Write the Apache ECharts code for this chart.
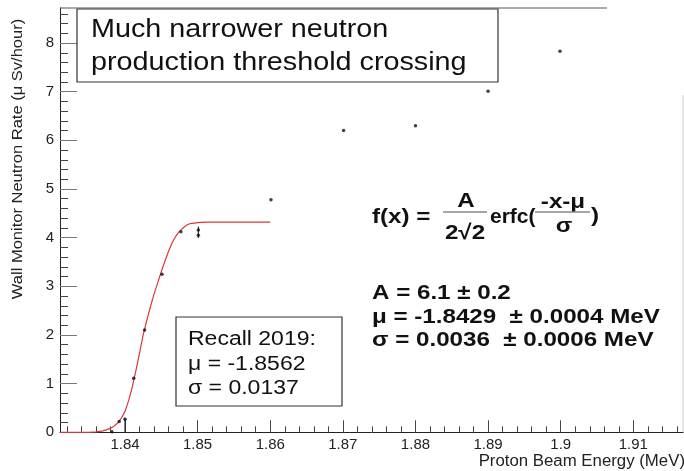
<!DOCTYPE html>
<html>
<head>
<meta charset="utf-8">
<script src="https://cdn.jsdelivr.net/npm/echarts@6/dist/echarts.min.js"></script>
<style>html,body{margin:0;padding:0;background:#fff;}#c{width:684px;height:471px;}</style>
</head>
<body>
<div id="c"></div>
<script>
// ---- data ----
const curveX = [1.83105, 1.8350, 1.8360, 1.8370, 1.8380, 1.8385, 1.8390, 1.8395, 1.8400, 1.8405, 1.8410, 1.8415, 1.8420, 1.8425, 1.8430, 1.8435, 1.8440, 1.8445, 1.8450, 1.8455, 1.8460, 1.8465, 1.8470, 1.8475, 1.8480, 1.8485, 1.8490, 1.8500, 1.8510, 1.8600];
const curveY = [0.00, 0.00, 0.01, 0.03, 0.08, 0.13, 0.19, 0.29, 0.43, 0.65, 0.93, 1.27, 1.62, 2.00, 2.30, 2.58, 2.84, 3.07, 3.30, 3.52, 3.72, 3.90, 4.03, 4.13, 4.20, 4.26, 4.29, 4.31, 4.32, 4.32];
const pointX = [1.8382, 1.8392, 1.8400, 1.8412, 1.8427, 1.8451, 1.8477, 1.8501, 1.8501, 1.8601, 1.8701, 1.8800, 1.8900, 1.8999];
const pointY = [0.01, 0.22, 0.27, 1.11, 2.10, 3.25, 4.12, 4.16, 4.05, 4.78, 6.20, 6.30, 7.01, 7.83];
const errX = [1.8400, 1.8501, 1.8501];
const errLow = [0.00, 4.10, 3.99];
const errHigh = [0.30, 4.23, 4.11];
const xMajor = [1.84, 1.85, 1.86, 1.87, 1.88, 1.89, 1.90, 1.91];
const xMinor = [1.832, 1.834, 1.836, 1.838, 1.842, 1.844, 1.846, 1.848, 1.852, 1.854, 1.856, 1.858, 1.862, 1.864, 1.866, 1.868, 1.872, 1.874, 1.876, 1.878, 1.882, 1.884, 1.886, 1.888, 1.892, 1.894, 1.896, 1.898, 1.902, 1.904, 1.906, 1.908, 1.912, 1.914, 1.916];
const yMajor = [0, 1, 2, 3, 4, 5, 6, 7, 8];
const yMinor = [0.2, 0.4, 0.6, 0.8, 1.2, 1.4, 1.6, 1.8, 2.2, 2.4, 2.6, 2.8, 3.2, 3.4, 3.6, 3.8, 4.2, 4.4, 4.6, 4.8, 5.2, 5.4, 5.6, 5.8, 6.2, 6.4, 6.6, 6.8, 7.2, 7.4, 7.6, 7.8, 8.2, 8.4, 8.6];
const xTitle = 'Proton Beam Energy (MeV)';
const yTitle = 'Wall Monitor Neutron Rate (\u03bc Sv/hour)';
const titleLines = ['Much narrower neutron', 'production threshold crossing'];
const recallLines = ['Recall 2019:', '\u03bc = -1.8562', '\u03c3 = 0.0137'];
const paramLines = ['A = 6.1 \u00b1 0.2', '\u03bc = -1.8429  \u00b1 0.0004 MeV', '\u03c3 = 0.0036  \u00b1 0.0006 MeV'];

const FONT = '"Liberation Sans", Arial, Helvetica, sans-serif';
const SX = 1.15;
const fmt = v => String(parseFloat(Number(v).toFixed(3)));

function txt(x, y, s, size, opts) {
  opts = opts || {};
  return {
    type: 'text', x: x, y: y, scaleX: opts.sx || SX, rotation: opts.rot || 0, z: 10,
    style: {
      text: s, fill: opts.color || '#111', fontFamily: FONT, fontSize: size,
      fontWeight: opts.bold ? 'bold' : 'normal',
      textAlign: opts.align || 'left', textVerticalAlign: 'middle'
    }
  };
}
function hline(x1, x2, y, color, w) {
  return { type: 'line', z: 10, shape: { x1: x1, y1: y, x2: x2, y2: y }, style: { stroke: color, lineWidth: w } };
}

const chart = echarts.init(document.getElementById('c'), null, { renderer: 'canvas' });

const axisCommonX = { type: 'value', min: 1.83105, max: 1.91684, gridIndex: 0, position: 'bottom', splitLine: { show: false } };
const axisCommonY = { type: 'value', min: 0, max: 8.72, gridIndex: 0, position: 'left', splitLine: { show: false } };

const graphics = [
  hline(60, 607, 8, '#555', 1),
  { type: 'line', z: 1, shape: { x1: 683, y1: 95, x2: 683, y2: 432 }, style: { stroke: '#d0d0d0', lineWidth: 1 } },
  { type: 'rect', z: 9, shape: { x: 77, y: 9, width: 421, height: 73 }, style: { fill: '#fff', stroke: '#333', lineWidth: 1.2 } },
  txt(91, 30, titleLines[0], 25),
  txt(91, 63, titleLines[1], 25),
  { type: 'rect', z: 9, shape: { x: 176, y: 317, width: 166, height: 89 }, style: { fill: '#fff', stroke: '#333', lineWidth: 1.2 } },
  txt(188, 339, recallLines[0], 20),
  txt(188, 364, recallLines[1], 20),
  txt(188, 388, recallLines[2], 20),
  // formula
  txt(372, 217, 'f(x) =', 21, { bold: true }),
  txt(466, 201, 'A', 21, { bold: true, align: 'center' }),
  hline(443, 487, 212, '#888', 1.3),
  txt(465, 233, '2\u221a2', 21, { bold: true, align: 'center' }),
  txt(490, 217, 'erfc(', 21, { bold: true, sx: 1.0 }),
  txt(563, 202, '-x-\u03bc', 21, { bold: true, align: 'center' }),
  hline(535, 590, 212, '#888', 1.3),
  txt(564, 226, '\u03c3', 21, { bold: true, align: 'center' }),
  txt(591, 216, ')', 21, { bold: true }),
  txt(372, 293, paramLines[0], 21, { bold: true }),
  txt(372, 317, paramLines[1], 21, { bold: true }),
  txt(372, 340, paramLines[2], 21, { bold: true }),
  // axis titles
  txt(685, 462, xTitle, 16, { align: 'right', sx: 1.05, color: '#222' }),
  txt(18, 159, yTitle, 15, { align: 'center', rot: Math.PI / 2, sx: 1.1, color: '#222' })
];

chart.setOption({
  animation: false,
  backgroundColor: '#fff',
  grid: { left: 60, right: 1, top: 8, bottom: 38.7, containLabel: false },
  xAxis: [
    Object.assign({}, axisCommonX, {
      axisLine: { show: true, lineStyle: { color: '#222', width: 1 } },
      axisTick: { show: true, inside: true, length: 12, customValues: xMajor, lineStyle: { color: '#444' } },
      axisLabel: { show: true, customValues: xMajor, margin: 5, fontSize: 15, color: '#222', fontFamily: FONT, formatter: fmt }
    }),
    Object.assign({}, axisCommonX, {
      axisLine: { show: false },
      axisTick: { show: true, inside: true, length: 6, customValues: xMinor, lineStyle: { color: '#444' } },
      axisLabel: { show: false }
    })
  ],
  yAxis: [
    Object.assign({}, axisCommonY, {
      axisLine: { show: true, lineStyle: { color: '#222', width: 1 } },
      axisTick: { show: true, inside: true, length: 17, customValues: yMajor, lineStyle: { color: '#777' } },
      axisLabel: { show: true, customValues: yMajor, margin: 6, fontSize: 15, color: '#222', fontFamily: FONT, formatter: fmt }
    }),
    Object.assign({}, axisCommonY, {
      axisLine: { show: false },
      axisTick: { show: true, inside: true, length: 8, customValues: yMinor, lineStyle: { color: '#444' } },
      axisLabel: { show: false }
    })
  ],
  graphic: graphics,
  series: [
    {
      name: 'fit', type: 'line', xAxisIndex: 0, yAxisIndex: 0,
      data: curveX.map((x, i) => [x, curveY[i]]),
      showSymbol: false, symbol: 'none', smooth: false,
      lineStyle: { color: '#d9383a', width: 1.2 }, z: 3
    },
    {
      name: 'errors', type: 'custom', xAxisIndex: 0, yAxisIndex: 0,
      data: errX.map((x, i) => [x, errLow[i], errHigh[i]]),
      renderItem: function (params, api) {
        const a = api.coord([api.value(0), api.value(1)]);
        const b = api.coord([api.value(0), api.value(2)]);
        return { type: 'line', shape: { x1: a[0], y1: a[1], x2: b[0], y2: b[1] }, style: { stroke: '#111', lineWidth: 1 } };
      },
      z: 4
    },
    {
      name: 'data', type: 'scatter', xAxisIndex: 0, yAxisIndex: 0,
      data: pointX.map((x, i) => [x, pointY[i]]),
      symbol: 'circle', symbolSize: 3.5,
      itemStyle: { color: '#111' }, z: 5
    }
  ]
});
</script>
</body>
</html>
